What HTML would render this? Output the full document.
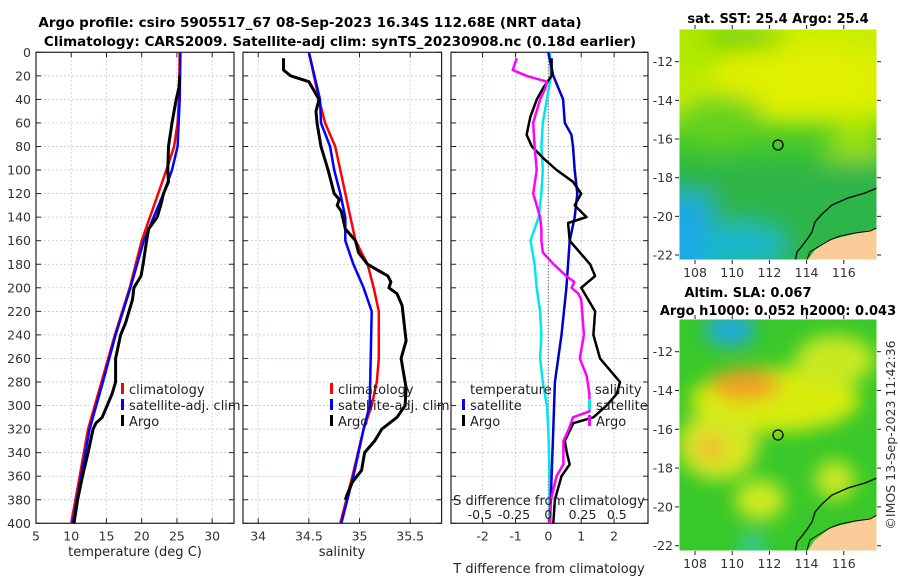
<!DOCTYPE html>
<html><head><meta charset="utf-8">
<style>
body{margin:0;background:#fff;width:900px;height:580px;overflow:hidden;font-family:"Liberation Sans","DejaVu Sans",sans-serif;}
svg text{font-family:"DejaVu Sans","Liberation Sans",sans-serif;}
</style></head>
<body>
<svg id="c" width="900" height="580" viewBox="0 0 900 580" xmlns="http://www.w3.org/2000/svg">
<defs>
<filter id="bl" x="-50%" y="-50%" width="200%" height="200%"><feGaussianBlur stdDeviation="9"/></filter>
<filter id="bg" x="-20%" y="-20%" width="140%" height="140%"><feGaussianBlur stdDeviation="12"/></filter>
<clipPath id="cm1"><rect x="679" y="29" width="198" height="231"/></clipPath>
<clipPath id="cm2"><rect x="679" y="319" width="198" height="232"/></clipPath>
</defs>
<text x="310" y="27" text-anchor="middle" font-size="13.5" font-weight="bold">Argo profile: csiro 5905517_67 08-Sep-2023 16.34S 112.68E (NRT data)</text>
<text x="340" y="46" text-anchor="middle" font-size="13.5" font-weight="bold">Climatology: CARS2009. Satellite-adj clim: synTS_20230908.nc (0.18d earlier)</text>

<g clip-path="url(#cm1)">
<rect x="679" y="29" width="198" height="231" fill="#3fc72a"/>
<g filter="url(#bg)">
<rect x="640" y="0" width="280" height="125" fill="#c8ee00"/>
<rect x="640" y="0" width="100" height="80" fill="#b0e800"/>
<ellipse cx="800" cy="80" rx="90" ry="40" fill="#e0f000"/>
<ellipse cx="720" cy="120" rx="45" ry="25" fill="#66d21a"/>
<ellipse cx="745" cy="38" rx="40" ry="10" fill="#44cc10"/>
<ellipse cx="855" cy="160" rx="30" ry="35" fill="#99e010"/>
<rect x="640" y="160" width="280" height="120" fill="#2eb54a"/>
<rect x="640" y="195" width="70" height="90" fill="#1aa8e6"/>
<ellipse cx="740" cy="245" rx="45" ry="20" fill="#14b8d0"/>
</g>
<polygon points="877,228 870,230 830,240 815,250 806,262 877,262" fill="#f9cc99"/>
<polyline points="877,188 865,193 848,198 832,205 822,214 815,222 812,232 808,238 802,246 797,252 795,262" fill="none" stroke="#000" stroke-width="1.3"/>
<polyline points="877,228 870,231 855,233 840,236 830,240 818,247 810,252 806,262" fill="none" stroke="#000" stroke-width="1"/>
<circle cx="778" cy="145" r="5" fill="none" stroke="#000" stroke-width="1.3"/>
</g>
<rect x="679" y="29" width="198" height="231" fill="none" stroke="#fff"/>

<g clip-path="url(#cm2)">
<rect x="679" y="319" width="198" height="232" fill="#39c82a"/>
<g filter="url(#bl)">
<ellipse cx="775" cy="400" rx="85" ry="32" fill="#d8ec10"/>
<ellipse cx="745" cy="385" rx="35" ry="16" fill="#f0a020"/>
<ellipse cx="718" cy="445" rx="40" ry="35" fill="#d4e820"/>
<ellipse cx="710" cy="448" rx="15" ry="15" fill="#f0c030"/>
<ellipse cx="835" cy="360" rx="40" ry="25" fill="#c8e820"/>
<ellipse cx="760" cy="500" rx="25" ry="20" fill="#d0ea20"/>
<ellipse cx="835" cy="480" rx="20" ry="20" fill="#c8e820"/>
<ellipse cx="730" cy="330" rx="25" ry="16" fill="#20a8e0"/>
<ellipse cx="752" cy="545" rx="12" ry="10" fill="#30c8c0"/>
</g>
<polygon points="877,515 870,518 830,528 815,540 806,553 877,553" fill="#f9cc99"/>
<polyline points="877,478 865,483 848,488 832,495 822,504 815,512 812,522 808,528 802,536 797,542 795,553" fill="none" stroke="#000" stroke-width="1.3"/>
<polyline points="877,515 870,519 855,521 840,524 830,528 818,535 810,540 806,553" fill="none" stroke="#000" stroke-width="1"/>
<circle cx="778" cy="435" r="5" fill="none" stroke="#000" stroke-width="1.3"/>
</g>
<rect x="679" y="319" width="198" height="232" fill="none" stroke="#fff"/>

<text x="778" y="23" text-anchor="middle" font-size="13" font-weight="bold">sat. SST: 25.4 Argo: 25.4</text>
<text x="748" y="297" text-anchor="middle" font-size="13" font-weight="bold">Altim. SLA: 0.067</text>
<text x="778" y="315" text-anchor="middle" font-size="13" font-weight="bold">Argo h1000: 0.052 h2000: 0.043</text>
<text transform="translate(895,435) rotate(-90)" text-anchor="middle" font-size="12.5" fill="#333">©IMOS 13-Sep-2023 11:42:36</text>
<g id="plots"></g>
</svg>
<script>
const depthTicks=[0,20,40,60,80,100,120,140,160,180,200,220,240,260,280,300,320,340,360,380,400];
const tTicks=[5,10,15,20,25,30];
const sTicks=[34,34.5,35,35.5];
const dTTicks=[-2,-1,0,1,2];
const dSTicks=[-0.5,-0.25,0,0.25,0.5];
const dSTickLabels=["-0.5","-0.25","0","0.25","0.5"];
const lonTicks=[108,110,112,114,116];
const latTicks=[-12,-14,-16,-18,-20,-22];

const tClimDepth=[0,40,60,80,100,160,200,240,280,320,360,400];
const tClim=[25.4,25.3,25.1,24.6,23.5,20.0,18.3,16.2,14.3,12.4,11.2,10.0];
const tSatDepth=[0,40,80,100,120,140,160,200,240,280,320,360,400];
const tSat=[25.5,25.4,25.1,24.3,23.1,21.7,20.3,18.4,16.3,14.5,12.6,11.4,10.2];
const tArgoDepth=[20,30,40,60,80,100,110,120,130,140,150,160,180,190,200,210,230,240,260,280,290,300,310,315,320,340,360,380,400];
const tArgo=[25.4,25.3,24.9,24.3,23.8,23.7,23.8,23.1,22.7,22.2,21.0,20.7,20.2,19.9,18.9,18.7,17.7,17.0,16.3,16.3,15.8,15.1,14.4,13.5,13.1,12.4,11.6,10.9,10.4];

const sClimDepth=[0,40,60,80,100,140,160,180,200,220,260,280,300,320,360,400];
const sClim=[34.50,34.60,34.66,34.76,34.81,34.91,34.96,35.08,35.14,35.19,35.19,35.17,35.12,35.04,34.93,34.81];
const sSatDepth=[0,40,60,80,100,120,140,160,180,200,220,260,300,320,360,400];
const sSat=[34.50,34.61,34.62,34.71,34.75,34.81,34.86,34.86,34.94,35.04,35.12,35.11,35.10,35.04,34.94,34.82];
const sArgoDepth=[5,15,20,25,40,50,60,80,100,120,125,130,135,150,160,170,180,190,195,200,205,215,230,245,260,270,285,300,310,320,330,340,355,365,375,380];
const sArgo=[34.25,34.25,34.32,34.50,34.60,34.57,34.58,34.62,34.69,34.75,34.80,34.78,34.82,34.86,34.96,34.99,35.08,35.28,35.31,35.29,35.37,35.42,35.44,35.46,35.41,35.43,35.46,35.45,35.37,35.22,35.15,35.05,35.02,34.93,34.88,34.86];

const dTSatDepth=[0,20,40,60,70,80,100,120,140,160,200,240,280,320,360,400];
const dTSat=[0,0.15,0.45,0.5,0.7,0.75,0.8,0.88,0.8,0.65,0.55,0.4,0.2,0.15,0.1,0.05];
const dTArgoDepth=[5,20,30,40,55,70,80,90,100,110,120,130,140,145,160,180,190,200,220,240,260,280,290,300,310,315,330,340,350,360,380,400];
const dTArgo=[0.1,0.1,-0.15,-0.35,-0.55,-0.66,-0.5,-0.15,0.25,0.75,1.0,0.8,1.16,0.6,0.65,1.27,1.42,1.0,1.42,1.37,1.57,2.18,2.08,1.77,1.37,0.76,0.5,0.56,0.65,0.4,0.2,0.15];
const dSSatDepth=[0,20,40,60,80,100,120,140,160,180,200,220,240,260,280,300,320,360,400];
const dSSat=[0.01,0.02,-0.01,-0.04,-0.05,-0.04,-0.05,-0.07,-0.13,-0.1,-0.085,-0.06,-0.05,-0.06,-0.04,-0.01,0,0.01,0.01];
const dSArgoDepth=[5,15,20,25,30,40,60,80,100,120,130,140,150,160,170,180,190,195,200,205,210,240,260,275,290,305,310,320,330,340,350,360,380,400];
const dSArgo=[-0.23,-0.26,-0.16,-0.01,-0.02,-0.06,-0.11,-0.1,-0.085,-0.11,-0.085,-0.06,-0.05,-0.05,-0.04,0.04,0.13,0.19,0.17,0.22,0.24,0.26,0.23,0.28,0.3,0.3,0.18,0.15,0.11,0.11,0.11,0.06,0.02,0.01];

const NS="http://www.w3.org/2000/svg";
const root=document.getElementById('plots');
function mk(tag,attrs,parent){const e=document.createElementNS(NS,tag);for(const k in attrs)e.setAttribute(k,attrs[k]);(parent||root).appendChild(e);return e;}
const Y0=52.3,Y1=523.3;
const yD=d=>Y0+(d/400)*(Y1-Y0);
function panel(x0,x1,xmin,xmax,name){
  const g=mk('g',{});
  
  
  return {g,x0,x1,xs:v=>x0+(v-xmin)/(xmax-xmin)*(x1-x0)};
}
function grid(p,xt,labels,showY){
  for(const d of depthTicks){
    const y=yD(d);
    if(d>0&&d<400){const l=mk('line',{x1:p.x0,x2:p.x1,y1:y,y2:y,stroke:'#b8c0dc','stroke-width':0.7,'stroke-dasharray':'2,2'},p.g);}
    mk('line',{x1:p.x0,x2:p.x0+5,y1:y,y2:y,stroke:'#222'},p.g);
    mk('line',{x1:p.x1-5,x2:p.x1,y1:y,y2:y,stroke:'#222'},p.g);
    if(showY){const t=mk('text',{x:p.x0-5,y:y+4.5,'text-anchor':'end','font-size':12.5,fill:'#333'},p.g);t.textContent=d;}
  }
  xt.forEach((v,i)=>{
    const x=p.xs(v);
    if(x>p.x0+1&&x<p.x1-1){const l=mk('line',{x1:x,x2:x,y1:Y0,y2:Y1,stroke:'#b8c0dc','stroke-width':0.7,'stroke-dasharray':'2,2'},p.g);}
    mk('line',{x1:x,x2:x,y1:Y1,y2:Y1-5,stroke:'#222'},p.g);
    mk('line',{x1:x,x2:x,y1:Y0,y2:Y0+5,stroke:'#222'},p.g);
    const t=mk('text',{x:x,y:Y1+17,'text-anchor':'middle','font-size':12.5,fill:'#333'},p.g);t.textContent=labels?labels[i]:v;
    
  });
  const r=mk('rect',{x:p.x0,y:Y0,width:p.x1-p.x0,height:Y1-Y0,fill:'none',stroke:'#222','stroke-width':1.2},p.g);
  
}
function line(p,ds,vs,col,w,name,xs){
  const f=xs||p.xs;
  const pts=ds.map((d,i)=>f(vs[i]).toFixed(1)+','+yD(d).toFixed(1)).join(' ');
  const l=mk('polyline',{points:pts,fill:'none',stroke:col,'stroke-width':w,'stroke-linejoin':'round'},p.g);
  
}
function txt(p,x,y,s,name,size,anchor){const t=mk('text',{x,y,'font-size':size||13,fill:'#222','text-anchor':anchor||'start'},p.g);t.textContent=s;}
function mark(p,x,y,col,name){const r=mk('rect',{x,y:y-11,width:3,height:11,fill:col},p.g);}

// temperature
const pT=panel(36,234,5,33.1,'temperature-panel');
grid(pT,tTicks,null,true);
line(pT,tClimDepth,tClim,'#ff0000',2.5,'temp-climatology-line');
line(pT,tSatDepth,tSat,'#0000ff',2.5,'temp-satellite-line');
line(pT,tArgoDepth,tArgo,'#000',3,'temp-argo-line');
txt(pT,135,556,'temperature (deg C)','temperature-axis-title',13,'middle');
mark(pT,121,394,'#ff0000','legend-climatology-marker');txt(pT,129,394,'climatology','legend-climatology');
mark(pT,121,410,'#0000ff','legend-satellite-marker');txt(pT,129,410,'satellite-adj. clim','legend-satellite');
mark(pT,121,426,'#000','legend-argo-marker');txt(pT,129,426,'Argo','legend-argo');

// salinity
const pS=panel(243,441.6,33.85,35.81,'salinity-panel');
grid(pS,sTicks,null,false);
line(pS,sClimDepth,sClim,'#ff0000',2.5,'sal-climatology-line');
line(pS,sSatDepth,sSat,'#0000ff',2.5,'sal-satellite-line');
line(pS,sArgoDepth,sArgo,'#000',3,'sal-argo-line');
txt(pS,342,556,'salinity','salinity-axis-title',13,'middle');
mark(pS,330,394,'#ff0000','legend-climatology-marker');txt(pS,338,394,'climatology','legend-climatology');
mark(pS,330,410,'#0000ff','legend-satellite-marker');txt(pS,338,410,'satellite-adj. clim','legend-satellite');
mark(pS,330,426,'#000','legend-argo-marker');txt(pS,338,426,'Argo','legend-argo');

// differences
const pD=panel(451,648,-2.96,3.03,'difference-panel');
grid(pD,dTTicks,null,false);
const xS=v=>548.3+v*137;
{const l=mk('line',{x1:548.3,x2:548.3,y1:Y0,y2:Y1,stroke:'#444','stroke-width':1,'stroke-dasharray':'1,2'},pD.g);}
line(pD,dSSatDepth,dSSat,'#00e5ee',2.5,'dsal-satellite-line',xS);
line(pD,dTSatDepth,dTSat,'#0000cc',2.5,'dtemp-satellite-line');
line(pD,dTArgoDepth,dTArgo,'#000',2.5,'dtemp-argo-line');
line(pD,dSArgoDepth,dSArgo,'#ff00ff',2.5,'dsal-argo-line',xS);
txt(pD,549,505,'S difference from climatology','s-diff-axis-title',13,'middle');
dSTicks.forEach((v,i)=>txt(pD,xS(v),519,dSTickLabels[i],'s-diff-tick-label',12.5,'middle'));
txt(pD,549,573,'T difference from climatology','t-diff-axis-title',13,'middle');
txt(pD,470,394,'temperature','legend-temperature-header');
mark(pD,462,410,'#0000ff','legend-t-satellite-marker');txt(pD,470,410,'satellite','legend-t-satellite');
mark(pD,462,426,'#000','legend-t-argo-marker');txt(pD,470,426,'Argo','legend-t-argo');
txt(pD,595,394,'salinity','legend-salinity-header');
mark(pD,588,410,'#00e5ee','legend-s-satellite-marker');txt(pD,596,410,'satellite','legend-s-satellite');
mark(pD,588,426,'#ff00ff','legend-s-argo-marker');txt(pD,596,426,'Argo','legend-s-argo');

// map axes
function mapAxes(top,bottom,latY,name){
  const g=mk('g',{});
  const lx=v=>695+(v-108)*18.6;
  lonTicks.forEach(v=>{const x=lx(v);mk('line',{x1:x,x2:x,y1:bottom,y2:bottom+4,stroke:'#222'},g);mk('line',{x1:x,x2:x,y1:top-4,y2:top,stroke:'#222'},g);
    const t=mk('text',{x,y:bottom+17,'text-anchor':'middle','font-size':12.5,fill:'#333'},g);t.textContent=v;});
  latTicks.forEach(v=>{const y=latY(v);mk('line',{x1:675,x2:679,y1:y,y2:y,stroke:'#222'},g);mk('line',{x1:877,x2:881,y1:y,y2:y,stroke:'#222'},g);
    const t=mk('text',{x:673,y:y+4.5,'text-anchor':'end','font-size':12.5,fill:'#333'},g);t.textContent=v;});
}
mapAxes(29,260,v=>61.7+(-12-v)*19.33,'sst-map-axes');
mapAxes(319,551,v=>351.7+(-12-v)*19.4,'sla-map-axes');
</script>
</body></html>
